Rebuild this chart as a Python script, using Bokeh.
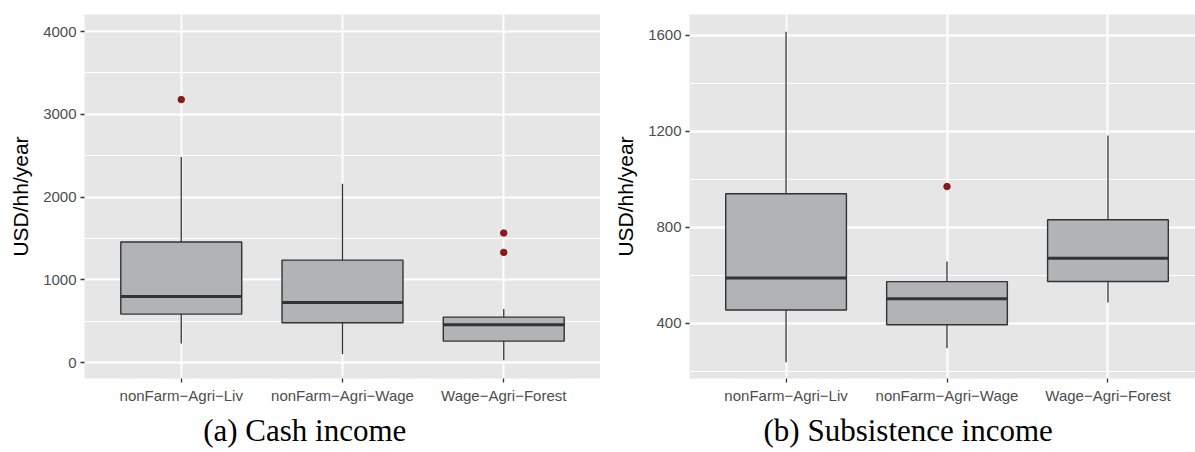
from bokeh.plotting import figure
from bokeh.layouts import row
from bokeh.models import Range1d, FixedTicker, Title, ColumnDataSource
from bokeh.embed import file_html
from bokeh.resources import INLINE

# Household income groups (x axis categories)
groups = ["nonFarm\u2212Agri\u2212Liv", "nonFarm\u2212Agri\u2212Wage", "Wage\u2212Agri\u2212Forest"]

# (a) Cash income box statistics, USD/hh/year
cash_lower = [230, 101, 29]
cash_q1 = [585, 480, 259]
cash_median = [798, 726, 456]
cash_q3 = [1456, 1238, 549]
cash_upper = [2484, 2160, 646]
cash_outlier_group = [0, 2, 2]
cash_outlier_value = [3178, 1565, 1331]
cash_ticks = [0, 1000, 2000, 3000, 4000]

# (b) Subsistence income box statistics, USD/hh/year
subs_lower = [239, 297, 487]
subs_q1 = [456, 395, 575]
subs_median = [589, 503, 671]
subs_q3 = [940, 574, 832]
subs_upper = [1614, 658, 1182]
subs_outlier_group = [1]
subs_outlier_value = [970]
subs_ticks = [400, 800, 1200, 1600]

BOX_W = 0.75
PANEL_BG = "#E5E6E5"
BOX_FILL = "#B1B4B4"
DARK = "#333333"
OUTLIER = "#8B1A1A"


def box_panel(width, left_border, x_end, y_range, ticks, minor, lower, q1, med, q3,
              upper, out_idx, out_val, caption, cap_x):
    xs = [i + 1 for i in range(len(groups))]
    p = figure(width=width, height=452, output_backend="svg", toolbar_location=None,
               x_range=Range1d(0.4, x_end), y_range=Range1d(*y_range),
               min_border_left=left_border, min_border_right=0,
               min_border_top=14, min_border_bottom=74)
    p.background_fill_color = PANEL_BG
    p.border_fill_color = "white"
    p.outline_line_color = None

    src = ColumnDataSource(dict(
        x=xs, x0=[x - BOX_W / 2 for x in xs], x1=[x + BOX_W / 2 for x in xs],
        lower=lower, q1=q1, med=med, q3=q3, upper=upper))

    # whiskers
    p.segment(x0="x", y0="q3", x1="x", y1="upper", source=src, line_color=DARK, line_width=1.3)
    p.segment(x0="x", y0="q1", x1="x", y1="lower", source=src, line_color=DARK, line_width=1.3)
    # boxes
    p.vbar(x="x", width=BOX_W, bottom="q1", top="q3", source=src,
           fill_color=BOX_FILL, line_color=DARK, line_width=1.4)
    # medians
    p.segment(x0="x0", y0="med", x1="x1", y1="med", source=src, line_color=DARK, line_width=3)
    # outliers
    p.scatter(x=[xs[i] for i in out_idx], y=out_val, size=6.5, fill_color=OUTLIER,
              line_color=OUTLIER)

    # grid
    p.xgrid.ticker = FixedTicker(ticks=xs)
    p.ygrid.ticker = FixedTicker(ticks=ticks, minor_ticks=minor)
    for g in (p.xgrid, p.ygrid):
        g.grid_line_color = "white"
        g.grid_line_width = 2
    p.ygrid.minor_grid_line_color = "white"
    p.ygrid.minor_grid_line_width = 1

    # axes
    p.xaxis.ticker = FixedTicker(ticks=xs)
    p.xaxis.major_label_overrides = {x: g for x, g in zip(xs, groups)}
    p.yaxis.ticker = FixedTicker(ticks=ticks)
    p.yaxis.axis_label = "USD/hh/year"
    for ax in (p.xaxis[0], p.yaxis[0]):
        ax.axis_line_color = None
        ax.major_tick_line_color = DARK
        ax.major_tick_line_width = 1.3
        ax.major_tick_out = 4
        ax.major_tick_in = 0
        ax.minor_tick_line_color = None
        ax.major_label_text_font = "Liberation Sans"
        ax.major_label_text_font_size = "15px"
        ax.major_label_text_color = "#4D4D4D"
        ax.major_label_standoff = 4
    p.yaxis.axis_label_text_font = "Liberation Sans"
    p.yaxis.axis_label_text_font_size = "21px"
    p.yaxis.axis_label_text_font_style = "normal"
    p.yaxis.axis_label_text_color = "black"
    p.yaxis.axis_label_standoff = 8

    # sub-figure caption underneath the axis
    p.add_layout(Title(text=caption, align="left", offset=cap_x, standoff=9,
                       text_font="Liberation Serif", text_font_size="31px",
                       text_font_style="normal", text_color="black"), "below")
    return p


left = box_panel(600, 84, 3.6, (-193, 4206), cash_ticks, [500, 1500, 2500, 3500],
                 cash_lower, cash_q1, cash_median, cash_q3, cash_upper,
                 cash_outlier_group, cash_outlier_value, "(a) Cash income", 118.7)
right = box_panel(595, 89, 3.544, (171, 1686), subs_ticks, [200, 600, 1000, 1400],
                  subs_lower, subs_q1, subs_median, subs_q3, subs_upper,
                  subs_outlier_group, subs_outlier_value, "(b) Subsistence income", 74)

layout = row(left, right, spacing=0)
open("out.html", "w").write(file_html(layout, INLINE))
